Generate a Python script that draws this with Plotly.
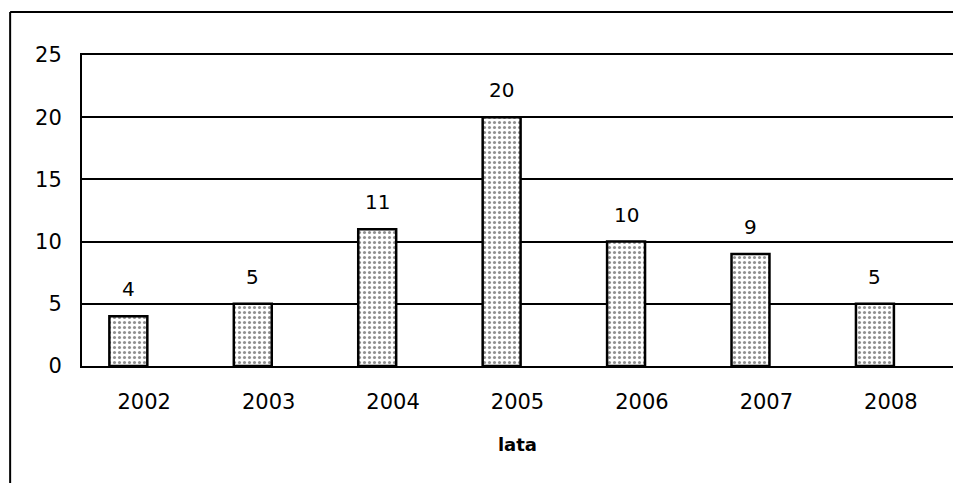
import plotly.graph_objects as go

years = ["2002", "2003", "2004", "2005", "2006", "2007", "2008"]
values = [4, 5, 11, 20, 10, 9, 5]
y_ticks = [0, 5, 10, 15, 20, 25]
x_title = "lata"

FONT = "DejaVu Sans, Liberation Sans, Arial, sans-serif"

fig = go.Figure()
fig.add_trace(go.Bar(
    x=years, y=values,
    width=0.305, offset=-0.28,
    marker=dict(
        color="white",
        line=dict(color="black", width=2.5),
        pattern=dict(shape=".", fgcolor="#222222", bgcolor="white", size=5, solidity=0.3),
    ),
    cliponaxis=False,
))

annotations = [
    dict(x=i - 0.128, y=v, xref="x", yref="y", text=str(v), showarrow=False,
         yanchor="bottom", yshift=13,
         font=dict(family=FONT, size=20, color="black"))
    for i, v in enumerate(values)
]

fig.update_layout(
    width=953, height=475,
    margin=dict(l=74, r=6, t=47, b=117),
    paper_bgcolor="white", plot_bgcolor="white",
    showlegend=False,
    font=dict(family=FONT, size=20, color="black"),
    xaxis=dict(
        type="category", categoryorder="array", categoryarray=years,
        range=[-0.5, 6.5], autorange=False,
        showline=True, linecolor="black", linewidth=2, mirror=True,
        showgrid=False, ticks="",
        ticklabelstandoff=16,
        tickfont=dict(size=21),
        title=dict(text="<b>" + x_title + "</b>", font=dict(size=18), standoff=25),
    ),
    yaxis=dict(
        range=[0, 25], autorange=False, tickvals=y_ticks,
        showline=True, linecolor="black", linewidth=2, mirror=True,
        showgrid=True, gridcolor="black", gridwidth=1.5,
        zeroline=False, ticks="",
        ticklabelstandoff=14,
        tickfont=dict(size=21),
    ),
    annotations=annotations,
    shapes=[
        dict(type="line", xref="paper", yref="paper", x0=-0.0825, x1=1.2, y0=1.138, y1=1.138,
             line=dict(color="black", width=2)),
        dict(type="line", xref="paper", yref="paper", x0=-0.0825, x1=-0.0825, y0=1.138, y1=-0.6,
             line=dict(color="black", width=2)),
    ],
)

fig.write_html("out.html")
